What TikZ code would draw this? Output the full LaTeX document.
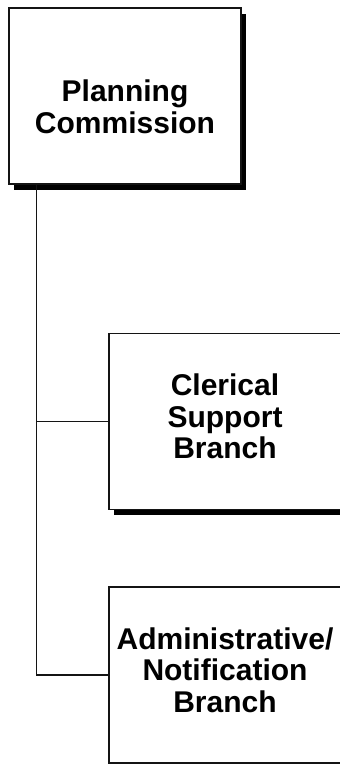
\documentclass[tikz,border=0pt]{standalone}
\usepackage{fontspec}
\setmainfont{Liberation Sans}
\usetikzlibrary{positioning, shadows}
\definecolor{boxLine}{RGB}{20, 20, 20}

\begin{document}
\begin{tikzpicture}[
        x=1pt, y=-1pt,
        orgBox/.style={draw=boxLine, line width=1.4pt, fill=white, minimum width=232pt, minimum height=176pt, inner sep=0pt, drop shadow={shadow xshift=5pt, shadow yshift=-6pt, fill=black, opacity=1}},
        boxText/.style={font=\bfseries\fontsize{30}{31.5}\selectfont, align=center, inner sep=0pt},
        link/.style={draw=boxLine, line width=1.5pt}
    ]
        \useasboundingbox (0,0) rectangle (340,764);

        \node[orgBox] (plan) at (125,96) {};
        \node[orgBox, below=148pt of plan.south west, anchor=north west, xshift=100pt] (cler) {};
        \node[orgBox, below=76pt of cler] (adm) {};

        \node[boxText] (planTxt) at ([yshift=-11pt]plan.center) {Planning\\Commission};
        \node[boxText] (clerTxt) at ([yshift=5pt]cler.center) {Clerical\\Support\\Branch};
        \node[boxText] (admTxt) at ([yshift=5pt]adm.center) {Administrative/\\Notification\\Branch};

        % Ligne verticale commune
        \coordinate (spine) at ([xshift=28pt]plan.south west);
        \draw[link] (spine) |- (adm.west);
        \draw[link] (spine |- cler.west) -- (cler.west);
    \end{tikzpicture}
\end{document}
